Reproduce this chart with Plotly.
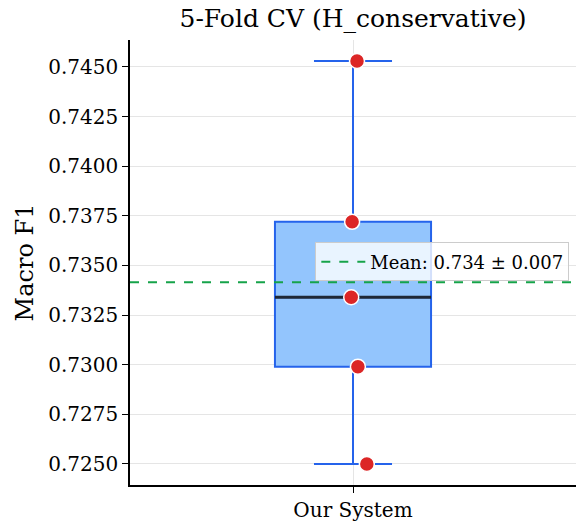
import numpy as np
import plotly.graph_objects as go

# Macro F1 per CV fold
fold_scores = [0.7453, 0.7372, 0.7334, 0.7299, 0.7250]
# horizontal jitter applied to the per-fold dots
fold_jitter = [0.009, -0.002, -0.004, 0.011, 0.031]
category_labels = ["Our System"]
y_tick_values = [0.7250, 0.7275, 0.7300, 0.7325, 0.7350, 0.7375, 0.7400, 0.7425, 0.7450]

scores = np.array(fold_scores)
mean_score = scores.mean()
std_score = scores.std()
median_score = np.median(scores)

FONT = "DejaVu Serif"
BOX_WIDTH = 0.35

fig = go.Figure()

fig.add_trace(go.Box(
    y=fold_scores, x0=0, width=BOX_WIDTH, whiskerwidth=0.5,
    boxpoints=False, quartilemethod="inclusive",
    fillcolor="#93c5fd", line=dict(color="#2563eb", width=2),
    showlegend=False, hoverinfo="y",
))

# median drawn as a dark bar over the box
fig.add_trace(go.Scatter(
    x=[-BOX_WIDTH / 2, BOX_WIDTH / 2], y=[median_score, median_score],
    mode="lines", line=dict(color="#1f2937", width=3),
    showlegend=False, hoverinfo="skip",
))

fig.add_trace(go.Scatter(
    x=[-0.5, 0.5], y=[mean_score, mean_score], mode="lines",
    line=dict(color="#16a34a", width=2, dash="dash"),
    name=f"Mean: {mean_score:.3f} ± {std_score:.3f}",
))

fig.add_trace(go.Scatter(
    x=fold_jitter, y=fold_scores, mode="markers",
    marker=dict(color="#dc2626", size=15, line=dict(color="white", width=1.5)),
    showlegend=False,
))

fig.update_layout(
    width=576, height=524,
    margin=dict(l=130, r=0, t=40, b=39),
    paper_bgcolor="white", plot_bgcolor="white",
    font=dict(family=FONT, color="black", size=20),
    title=dict(text="5-Fold CV (H_conservative)", x=(130 + 446 / 2) / 576, xanchor="center",
               y=1 - 18 / 524, yanchor="middle", font=dict(size=25)),
    legend=dict(x=0.985, xanchor="right", y=0.545, yanchor="top",
                bgcolor="rgba(255,255,255,0.8)", bordercolor="#cccccc", borderwidth=1,
                font=dict(size=18), itemwidth=44),
    showlegend=True,
)

fig.update_xaxes(
    range=[-0.5, 0.5], tickvals=[0], ticktext=category_labels,
    showline=True, linecolor="black", linewidth=1.5,
    ticks="outside", ticklen=6, tickcolor="black",
    showgrid=True, gridcolor="#e5e5e5", gridwidth=1, zeroline=False,
    tickfont=dict(size=20),
)
fig.update_yaxes(
    range=[0.72394, 0.74636], tickvals=y_tick_values, tickformat=".4f",
    showline=True, linecolor="black", linewidth=1.5,
    ticks="outside", ticklen=6, tickcolor="black",
    showgrid=True, gridcolor="#e5e5e5", gridwidth=1, zeroline=False,
    title=dict(text="Macro F1", font=dict(size=24), standoff=8),
    tickfont=dict(size=20),
)

fig.write_html("out.html")
